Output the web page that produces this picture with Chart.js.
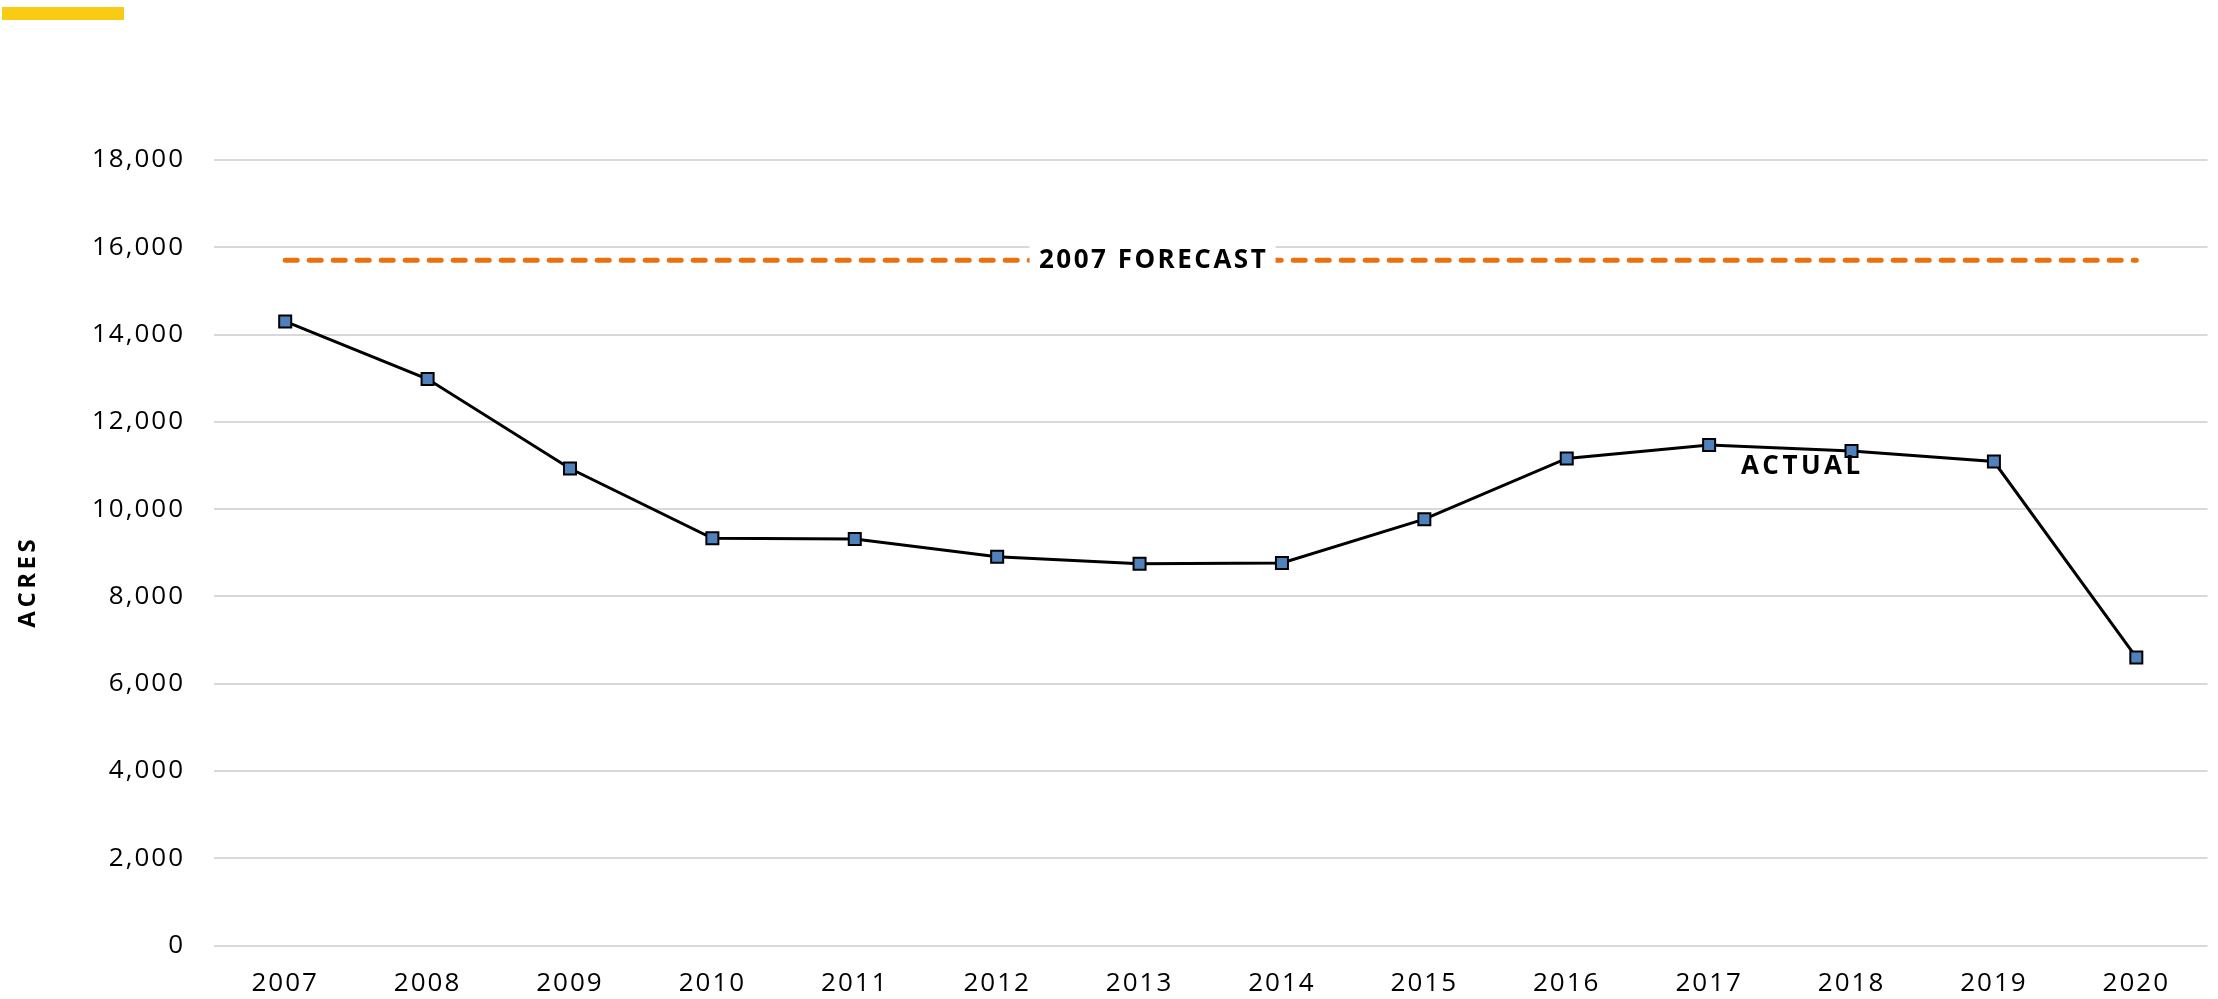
<!DOCTYPE html>
<html>
<head>
<meta charset="utf-8">
<script src="https://cdn.jsdelivr.net/npm/chart.js@4"></script>
<style>
	body { margin: 0; background: #fff; }
	#wrap { position: relative; width: 2218px; height: 999px; }
	#bar { position: absolute; left: 2px; top: 7px; width: 122px; height: 13px; background: #F9CB14; }
</style>
</head>
<body>
<div id="wrap">
	<div id="bar"></div>
	<canvas id="mycanvas"></canvas>
</div>
<script>
var years = ['2007', '2008', '2009', '2010', '2011', '2012', '2013', '2014', '2015', '2016', '2017', '2018', '2019', '2020'];
var actual = [14300, 12980, 10930, 9330, 9315, 8910, 8750, 8765, 9770, 11160, 11470, 11330, 11090, 6600];
var forecast = [15700, 15700, 15700, 15700, 15700, 15700, 15700, 15700, 15700, 15700, 15700, 15700, 15700, 15700];
var yTicks = [0, 2000, 4000, 6000, 8000, 10000, 12000, 14000, 16000, 18000];

var labelsPlugin = {
	id: 'labels',
	beforeDraw: function(chart){
		chart.ctx.letterSpacing = '2px';
	},
	afterDatasetsDraw: function(chart){
		var ctx = chart.ctx;
		var x = chart.scales.x;
		var y = chart.scales.y;
		ctx.save();

		// forecast label with white box over the dashed line
		ctx.font = 'bold 26px "Open Sans"';
		ctx.letterSpacing = '2.5px';
		var fy = y.getPixelForValue(forecast[0]);
		var fx = x.getPixelForValue(6) + 13;
		ctx.fillStyle = '#fff';
		ctx.fillRect(fx - 123, fy - 20, 246, 40);
		ctx.fillStyle = '#000';
		ctx.textAlign = 'center';
		ctx.textBaseline = 'middle';
		ctx.fillText('2007 FORECAST', fx + 1, fy);

		// actual label
		ctx.letterSpacing = '3.5px';
		var ax = (x.getPixelForValue(10) + x.getPixelForValue(11)) / 2 + 22;
		ctx.fillText('ACTUAL', ax, y.getPixelForValue(actual[11]) + 16);

		// y axis title
		ctx.translate(28, (y.top + y.bottom) / 2 + 29);
		ctx.rotate(-Math.PI / 2);
		ctx.font = 'bold 24px "Open Sans"';
		ctx.fillText('ACRES', 0, 0);
		ctx.restore();
	}
};

var ctx = document.getElementById('mycanvas');
var lineChart = new Chart(ctx, {
	type: 'line',
	data: {
		labels: years,
		datasets: [
			{
				label: 'Actual',
				data: actual,
				borderColor: '#000',
				borderWidth: 3,
				pointStyle: 'rect',
				pointRadius: 8.5,
				pointBackgroundColor: '#4F81BD',
				pointBorderColor: '#000',
				pointBorderWidth: 2,
				tension: 0,
				order: 1
			},
			{
				label: '2007 Forecast',
				data: forecast,
				borderColor: '#E8700F',
				borderWidth: 5,
				borderDash: [12, 12],
				borderCapStyle: 'round',
				pointRadius: 0,
				order: 2
			}
		]
	},
	options: {
		responsive: true,
		maintainAspectRatio: false,
		animation: false,
		events: [],
		layout: { padding: { top: 160, right: 7, left: 0, bottom: 0 } },
		plugins: { legend: { display: false }, tooltip: { enabled: false } },
		scales: {
			x: {
				offset: true,
				grid: { display: false },
				border: { display: false },
				ticks: { color: '#000', font: { family: 'Open Sans', size: 26 }, padding: 14, maxRotation: 0 },
				afterFit: function(s){ s.height = 53.5; }
			},
			y: {
				min: 0,
				max: 18000,
				afterBuildTicks: function(s){ s.ticks = yTicks.map(function(v){ return { value: v }; }); },
				grid: { color: '#D9D9D9', lineWidth: 2, drawTicks: false },
				border: { display: false },
				ticks: {
					color: '#000',
					font: { family: 'Open Sans', size: 26 },
					padding: 29,
					callback: function(v){ return v.toLocaleString('en-US'); }
				},
				afterFit: function(s){ s.width = 214; }
			}
		}
	},
	plugins: [labelsPlugin]
});
</script>
</body>
</html>
